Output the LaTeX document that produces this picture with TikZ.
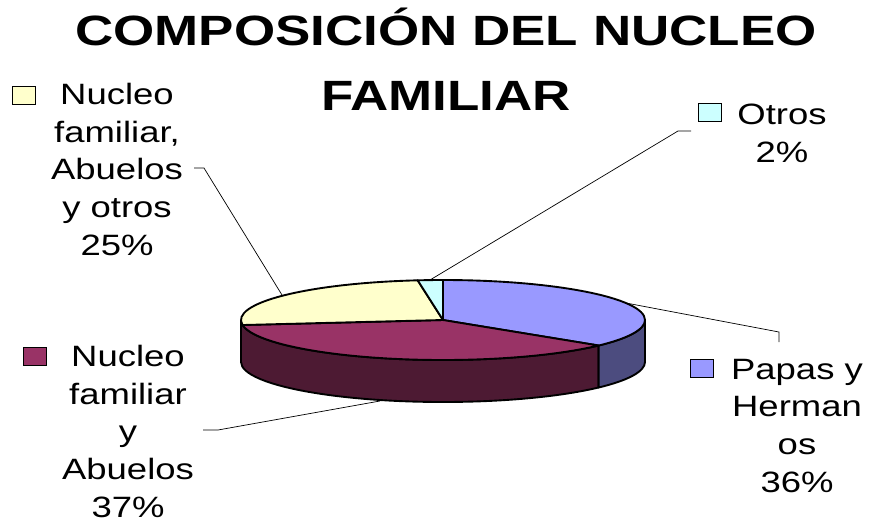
\documentclass[tikz,border=0pt]{standalone}
\usepackage{fontspec}
\newfontfamily\labelfont{Liberation Sans}[FakeStretch=1.24]
\newfontfamily\titlefont{Liberation Sans}[FakeStretch=1.25]
\usetikzlibrary{positioning}
\definecolor{papas}{HTML}{9999FF}
\definecolor{papasside}{HTML}{4C4C7F}
\definecolor{abuelos}{HTML}{993366}
\definecolor{abuelosside}{HTML}{4D1A33}
\definecolor{otrosfam}{HTML}{FFFFCC}
\definecolor{otros}{HTML}{CCFFFF}
\begin{document}
\begin{tikzpicture}[x=0.85pt, y=-0.85pt,
    lbl/.style={align=center, anchor=base, inner sep=0pt, font=\labelfont\fontsize{25}{32}\selectfont},
    key/.style={draw=black, line width=0.7pt, minimum width=19.5pt, minimum height=15.3pt, inner sep=0pt},
    pie/.style={draw=black, line width=1.6pt, line join=round},
    leader/.style={draw=black, line width=0.6pt},
    rr/.style={x radius=202, y radius=40}]

        \useasboundingbox (0,0) rectangle (869,519);

        \node[align=center, anchor=base, inner sep=0pt, font=\titlefont\bfseries\fontsize{36}{55}\selectfont] at (446,110) (title) {COMPOSICIÓN DEL NUCLEO\\FAMILIAR};

        \node[lbl] at (117,255) (famOtros) {Nucleo\\familiar,\\Abuelos\\y otros\\25\%};
        \node[lbl] at (782,162) (otros) {Otros\\2\%};
        \node[lbl] at (797,492) (papas) {Papas y\\Herman\\os\\36\%};
        \node[lbl] at (128,517) (famAbuelos) {Nucleo\\familiar\\y\\Abuelos\\37\%};

        \node[key, fill=otrosfam] at (24,95) (kFamOtros) {};
        \node[key, fill=otros] at (710,112) (kOtros) {};
        \node[key, fill=papas] at (702,368) (kPapas) {};
        \node[key, fill=abuelos] at (35,356) (kFamAbuelos) {};

        \coordinate (C) at (443,320);
        \coordinate (tFamOtros) at (194,168);
        \coordinate (tOtros) at (691,131);
        \coordinate (tPapas) at (779,342);
        \coordinate (tFamAbuelos) at (203,430);
        \coordinate (eFamOtros) at (282,295);
        \coordinate (eOtros) at (430,280);
        \coordinate (ePapas) at (626,303);
        \coordinate (eFamAbuelos) at (380,401);

        \draw[leader] (tFamOtros) -- ++(10,0) -- (eFamOtros);
        \draw[leader] (tOtros) -- ++(-13,0) -- (eOtros);
        \draw[leader] (tPapas) -- ++(0,-10) -- (ePapas);
        \draw[leader] (tFamAbuelos) -- ++(15,0) -- (eFamAbuelos);

        \draw[pie, fill=abuelosside] (C) ++(-180:202 and 40) arc[start angle=-180, end angle=-320.4, rr] -- ++(0,42) arc[start angle=-320.4, end angle=-180, rr] -- cycle;
        \draw[pie, fill=papasside] (C) ++(-320.4:202 and 40) arc[start angle=-320.4, end angle=-360, rr] -- ++(0,42) arc[start angle=-360, end angle=-320.4, rr] -- cycle;

        \draw[pie, fill=papas] (C) -- ++(-90:202 and 40) arc[start angle=-90, end angle=39.6, rr] -- cycle;
        \draw[pie, fill=abuelos] (C) -- ++(39.6:202 and 40) arc[start angle=39.6, end angle=172.8, rr] -- cycle;
        \draw[pie, fill=otrosfam] (C) -- ++(172.8:202 and 40) arc[start angle=172.8, end angle=262.8, rr] -- cycle;
        \draw[pie, fill=otros] (C) -- ++(262.8:202 and 40) arc[start angle=262.8, end angle=270, rr] -- cycle;
    \end{tikzpicture}
\end{document}
